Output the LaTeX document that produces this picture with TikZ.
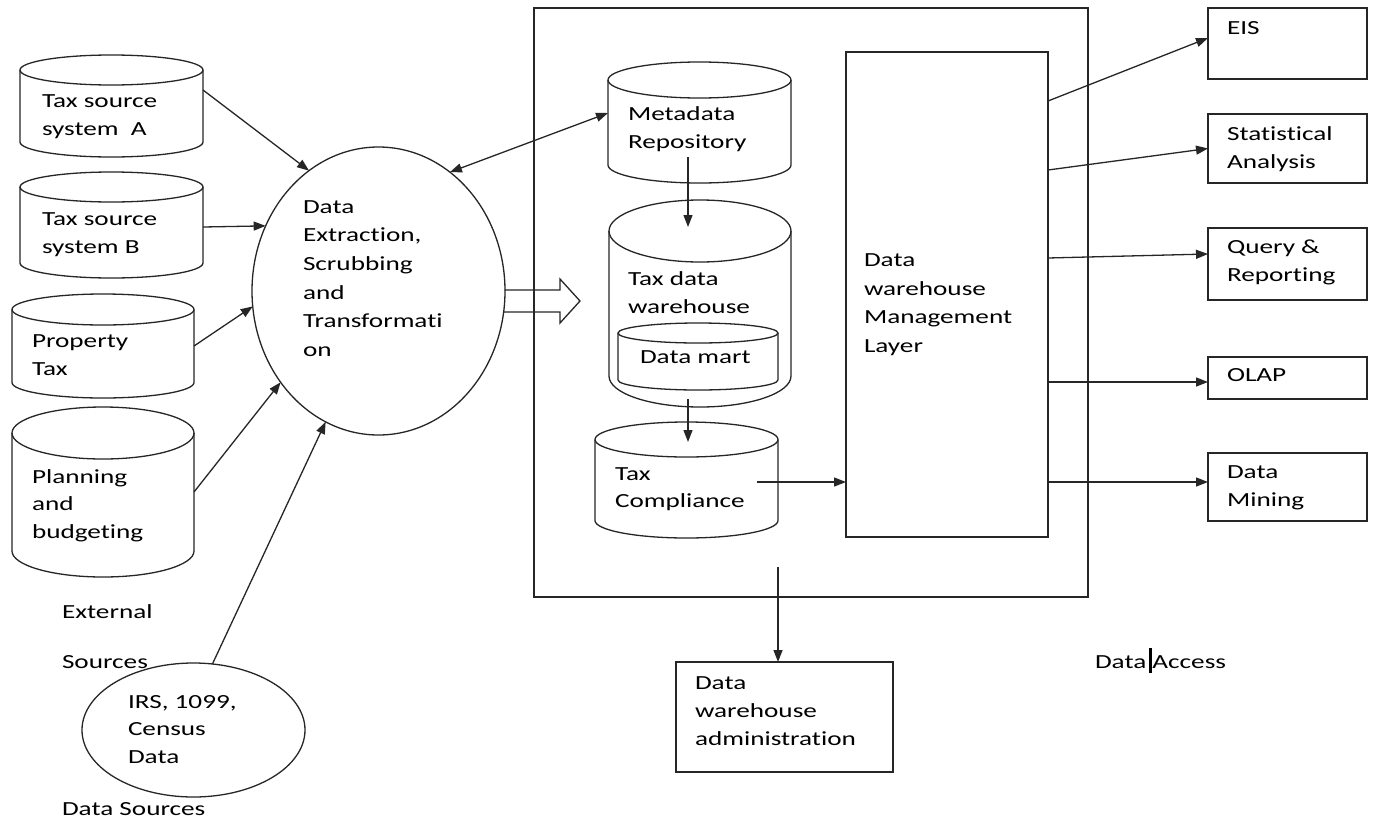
\documentclass[tikz,border=0pt]{standalone}
\usepackage{fontspec}
\setmainfont{Carlito}[FakeStretch=1.36, Ligatures={NoCommon}]
\usetikzlibrary{arrows.meta,shapes.geometric,fit,calc}

\tikzset{
  ln/.style={draw=black!85, line width=1.3pt},
  arr/.style={ln, -{Triangle[length=12pt,width=9pt]}},
  darr/.style={ln, {Triangle[length=12pt,width=9pt]}-{Triangle[length=12pt,width=9pt]}},
  % multi-line labels are placed by the baseline of their last line
  txt/.style={anchor=base west, inner sep=0, outer sep=0, align=left,
              font=\fontsize{20}{28}\selectfont},
  box/.style={ln, inner sep=0, outer sep=0},
  region/.style={inner sep=0, outer sep=0},
  oval/.style={ln, ellipse, inner sep=0, outer sep=0},
}

% database cylinder: name, left x, right x, top depth, bottom depth, end radius
\newcommand\dbcyl[6]{%
  \node[region, fit={(#2,-#4)(#3,-#5)}] (#1) {};
  \draw[ln] (#2,-#4-#6) -- (#2,-#5+#6)
     arc[start angle=180, end angle=360, x radius={(#3-#2)/2}, y radius=#6]
     -- (#3,-#4-#6);
  \draw[ln] ({(#2+#3)/2},-#4-#6) ellipse[x radius={(#3-#2)/2}, y radius=#6];
}

\begin{document}
\begin{tikzpicture}[x=1pt,y=1pt]
\useasboundingbox[fill=white] (0,0) rectangle (1375,-822);

% ---- data sources ----
\dbcyl{srcA}{20}{203}{55}{157}{15}
\dbcyl{srcB}{20}{203}{172}{278}{15}
\dbcyl{prop}{12}{194}{294}{398}{15.5}
\dbcyl{plan}{12}{194}{407}{577}{26}

\node[txt] (srcAt) at (42,-135) {Tax source\\system~~A};
\node[txt] (srcBt) at (42,-253) {Tax source\\system B};
\node[txt] (propt) at (32,-375) {Property\\Tax};
\node[txt, font=\fontsize{20}{27.5}\selectfont] (plant) at (32,-538) {Planning\\and\\budgeting};

\node[txt] (ext1) at (62,-618) {External};
\node[txt] (ext2) at (62,-668) {Sources};
\node[oval, minimum width=223, minimum height=134] (irs) at (193.5,-730) {};
\node[txt, font=\fontsize{20}{27.5}\selectfont] (irst) at (128,-763) {IRS, 1099,\\Census\\Data};
\node[txt] (srclabel) at (62,-815) {Data Sources};

% ---- extraction ----
\node[oval, minimum width=253, minimum height=288] (ets) at (378.5,-291) {};
\node[txt, font=\fontsize{20}{28.7}\selectfont] (etst) at (303,-356.5)
  {Data\\Extraction,\\Scrubbing\\and\\Transformati\\on};

\draw[arr] ([yshift=16]srcA.east) -- (ets.120.5);
\draw[arr] ([yshift=-2]srcB.east) -- (ets.150.7);
\draw[arr] (prop.east) -- (ets.187.7);
\draw[arr] (plan.east) -- (ets.223.8);
\draw[arr] (irs.74) -- (ets.248.6);

% hollow transfer arrow
\draw[ln, line join=miter]
  ($(ets.east)+(-0.5,1)$) -- (560,-290) -- (560,-279) -- (580,-301)
  -- (560,-323) -- (560,-312) -- ($(ets.east)+(-1.5,-21)$);

% ---- warehouse ----
\node[box, fit={(534,-8)(1088,-597)}] (dw) {};

\dbcyl{md}{608}{791}{62}{183}{18}
\dbcyl{tdw}{609}{791}{200}{407}{31}
\dbcyl{dm}{618}{778}{323}{390}{10}
\dbcyl{tc}{595}{778}{422}{538}{17.5}

\node[txt] (mdt) at (628,-148) {Metadata\\Repository};
\node[txt] (tdwt) at (628,-313) {Tax data\\warehouse};
\node[txt] (dmt) at (640,-363) {Data mart};
\node[txt, font=\fontsize{20}{27}\selectfont] (tct) at (615,-507) {Tax\\Compliance};

\draw[darr] (ets.59.9) -- ([yshift=9.5]md.west);
\draw[arr] ([xshift=-11.5,yshift=-34.5]md.center) coordinate (mdout)
  -- ($(mdout |- tdw.north)+(0,-27)$);
\draw[arr] ($(mdout |- tdw.south)+(0,8)$) -- ($(mdout |- tc.north)+(0,-20)$);

\node[box, fit={(846,-52)(1048,-537)}] (mgmt) {};
\node[txt, font=\fontsize{20}{28.4}\selectfont] (mgmtt) at (864,-352)
  {Data\\warehouse\\Management\\Layer};

\draw[arr] ([xshift=70.5,yshift=-2]tc.center) coordinate (tcout) -- (tcout -| mgmt.west);

% ---- administration ----
\node[box, fit={(676,-662)(893,-772)}] (adm) {};
\node[txt] (admt) at (695,-745) {Data\\warehouse\\administration};
\coordinate (admfeed) at (778,-567);
\draw[arr] (admfeed) -- (admfeed |- adm.north);

% ---- data access ----
\node[box, fit={(1208,-8)(1367,-79)}] (eis) {};
\node[box, fit={(1208,-114)(1367,-183)}] (stat) {};
\node[box, fit={(1208,-228)(1367,-300)}] (qr) {};
\node[box, fit={(1208,-357)(1367,-399)}] (olap) {};
\node[box, fit={(1208,-453)(1367,-521)}] (mine) {};

\node[txt] (eist) at (1227,-34) {EIS};
\node[txt] (statt) at (1227,-168) {Statistical\\Analysis};
\node[txt] (qrt) at (1227,-281) {Query \&\\Reporting};
\node[txt] (olapt) at (1227,-381) {OLAP};
\node[txt] (minet) at (1227,-506) {Data\\Mining};

\draw[arr] ([yshift=-49]mgmt.north east) -- ([yshift=5.5]eis.west);
\draw[arr] ([yshift=-118]mgmt.north east) -- (stat.west);
\draw[arr] ([yshift=-206]mgmt.north east) -- ([yshift=10]qr.west);
\draw[arr] ([yshift=-330]mgmt.north east) -- ([yshift=-4]olap.west);
\draw[arr] ([yshift=-430]mgmt.north east) -- ([yshift=5]mine.west);

\node[txt] (access) at (1095,-668) {Data Access};
\draw[line width=3pt] (1150,-648) -- (1150,-673);

\end{tikzpicture}
\end{document}
